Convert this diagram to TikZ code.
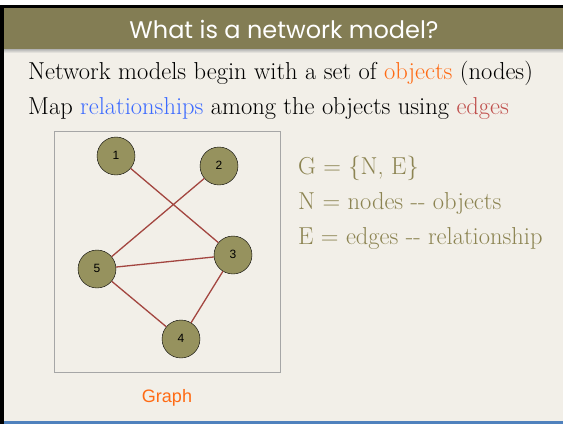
\documentclass[tikz,border=0pt]{standalone}
\usepackage{fontspec}
\usepackage{xcolor}
\usepackage{tikz}
\usetikzlibrary{positioning}
\newfontfamily\titlefont{Poppins}
\newfontfamily\labelfont{Liberation Sans}
\definecolor{oliva}{RGB}{131,125,84}
\definecolor{crema}{RGB}{242,239,232}
\definecolor{nodo}{RGB}{150,146,94}
\definecolor{arista}{RGB}{163,70,64}
\definecolor{naranja}{RGB}{255,106,19}
\definecolor{azul}{RGB}{61,107,255}
\definecolor{rojizo}{RGB}{192,80,77}
\definecolor{caqui}{RGB}{140,132,82}
\definecolor{barra}{RGB}{79,129,189}

\begin{document}
\begin{tikzpicture}[x=1pt,y=-1pt,
    texto/.style={anchor=base west, inner sep=0pt, font=\fontsize{24.5}{29}\selectfont},
    vertice/.style={circle, draw=black, fill=nodo, minimum size=38pt, inner sep=0pt, font=\labelfont\fontsize{12}{14}\selectfont}]
        \useasboundingbox (0,0) rectangle (563,424);
        \fill[white] (0,0) rectangle (563,424);
        \fill[crema] (4,8) rectangle (563,421);
        \fill[black] (0,5) rectangle (563,8);
        \fill[black] (0,5) rectangle (4,424);
        \fill[oliva] (4,8) rectangle (563,49);
        \shade[top color=gray!60, bottom color=crema] (4,49) rectangle (563,53);
        \fill[barra] (4,421) rectangle (563,424);
        \node[text=white, font=\titlefont\fontsize{24}{28}\selectfont] (titulo) at (284,29) {What is a network model?};
        \node[texto] (linea1) at (28,79) {Network models begin with a set of \textcolor{naranja}{objects} (nodes)};
        \node[texto] (linea2) at (28,114) {Map \textcolor{azul}{relationships} among the objects using \textcolor{rojizo}{edges}};
        \node[draw=gray!70, minimum width=226pt, minimum height=241pt, inner sep=0pt] (marco) at (167,251.5) {};
        \node[text=naranja, font=\labelfont\fontsize{18}{21}\selectfont, below=14pt of marco] (etiqueta) {Graph};
        \foreach \i/\x/\y in {1/116/156, 2/219/166, 3/233/255, 4/181/339, 5/97/269} {
          \node[vertice] (\i) at (\x,\y) {\raisebox{2pt}{\i}};
        }
        \draw[arista, line width=1.3pt] (1) -- (3) (2) -- (5) (5) -- (3) (5) -- (4) (4) -- (3);
        \node[texto, text=caqui] (conjunto) at (298,174) {G = \{N, E\}};
        \node[texto, text=caqui] (nodos) at (298,209) {N = nodes -{}- objects};
        \node[texto, text=caqui] (aristas) at (298,244) {E = edges -{}- relationship};
\end{tikzpicture}
\end{document}
